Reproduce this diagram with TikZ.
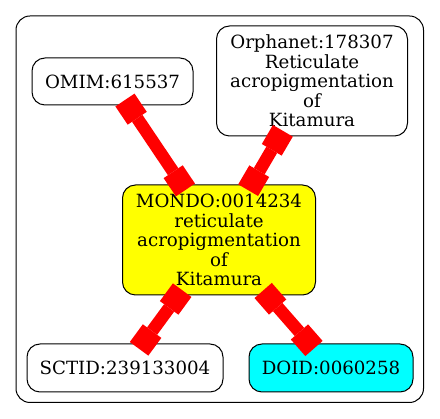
\documentclass[tikz,border=0pt]{standalone}
\usepackage{fontspec}
\usetikzlibrary{arrows.meta}
\newfontfamily\nodefont{DejaVu Serif}
\definecolor{termyellow}{RGB}{255,255,0}
\definecolor{termcyan}{RGB}{0,255,255}
\definecolor{linkred}{RGB}{255,0,0}
\begin{document}
\begin{tikzpicture}[x=1pt,y=-1pt,
  term/.style={draw=black, line width=1pt, rounded corners=13pt, align=center,
    inner sep=0pt, outer sep=0pt,
    font=\nodefont\fontsize{18.2}{19.5}\selectfont},
  link/.style={draw=linkred, line width=12.5pt,
    {Square[length=22pt,width=23pt,line width=0pt]}-{Square[length=22pt,width=23pt,line width=0pt]},
    shorten <=-6pt, shorten >=-6pt}]
  \useasboundingbox (0,0) rectangle (440,419);
  % enclosing cluster
  \draw[line width=1pt, rounded corners=14pt] (16,16) rectangle (423.5,402.5);
  % terms
  \node[term, minimum width=161pt, minimum height=47pt] (omim) at (112.5,81.5) {OMIM:615537};
  \node[term, minimum width=191pt, minimum height=110pt] (orpha) at (312,81)
    {Orphanet:178307\\Reticulate\\acropigmentation\\of\\Kitamura};
  \node[term, fill=termyellow, minimum width=193pt, minimum height=110pt] (mondo) at (219,240)
    {MONDO:0014234\\reticulate\\acropigmentation\\of\\Kitamura};
  \node[term, minimum width=196pt, minimum height=48pt] (sct) at (125,368) {SCTID:239133004};
  \node[term, fill=termcyan, minimum width=164pt, minimum height=48pt] (doid) at (331,368) {DOID:0060258};
  % cross references
  \draw[link] (omim) -- (mondo);
  \draw[link] (orpha) -- (mondo);
  \draw[link] (mondo) -- (sct);
  \draw[link] (mondo) -- (doid);
\end{tikzpicture}
\end{document}
